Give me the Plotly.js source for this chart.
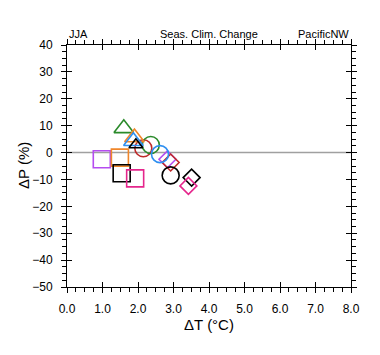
<!DOCTYPE html>
<html>
<head>
<meta charset="utf-8">
<script src="https://cdn.plot.ly/plotly-3.0.1.min.js"></script>
<style>html,body{margin:0;padding:0;background:#fff;}#chart{width:380px;height:355px;}</style>
</head>
<body>
<div id="chart"></div>
<script>
// Data (ΔT in °C, ΔP in %)
const triDT = [1.60, 1.90, 1.87, 1.94];
const triDP = [9.0, 5.6, 4.2, 2.9];
const cirDT = [2.15, 2.36, 2.62, 2.92];
const cirDP = [1.6, 2.8, -0.6, -8.5];
const diaDT = [2.83, 2.92, 3.51, 3.42];
const diaDP = [-2.5, -3.7, -9.3, -12.4];
const sqrDT = [0.98, 1.49, 1.54, 1.92];
const sqrDP = [-2.5, -1.9, -7.7, -9.6];
const xTickVals = [0,1,2,3,4,5,6,7,8];
const xTickText = ["0.0","1.0","2.0","3.0","4.0","5.0","6.0","7.0","8.0"];
const yTickVals = [40,30,20,10,0,-10,-20,-30,-40,-50];

// Styles
const GREEN="#2A8A2A", ORANGE="#F0862A", BLUE="#2E8FF0", BLACK="#000000",
      RED="#BE2A2A", PURPLE="#B54CF0", PINK="#E5268C";
const triColors=[GREEN,ORANGE,BLUE,BLACK];
const cirColors=[RED,GREEN,BLUE,BLACK];
const diaColors=[PURPLE,RED,BLACK,PINK];
const sqrColors=[PURPLE,ORANGE,BLACK,PINK];
const triSizes=[17,17,17,12];

function trace(x,y,sym,cols,size){
  return {x:x,y:y,type:'scatter',mode:'markers',hoverinfo:'skip',
    marker:{symbol:sym,size:size,opacity:1,color:cols,line:{color:cols,width:1.6}}};
}
const zero = {x:[0,8],y:[0,0],type:'scatter',mode:'lines',line:{color:'#a0a0a0',width:1.5},hoverinfo:'skip'};
const dummy = {x:[0],y:[0],xaxis:'x2',yaxis:'y2',type:'scatter',mode:'markers',marker:{opacity:0},hoverinfo:'skip'};
const data=[zero,
  trace(sqrDT,sqrDP,'square-open',sqrColors,17),
  trace(diaDT,diaDP,'diamond-open',diaColors,13),
  trace(cirDT,cirDP,'circle-open',cirColors,17),
  trace(triDT,triDP,'triangle-up-open',triColors,triSizes),
  dummy
];
const font={family:'"Liberation Sans", Arial, Helvetica, sans-serif',color:'#000'};
const layout={
  width:380,height:355,showlegend:false,
  paper_bgcolor:'#fff',plot_bgcolor:'#fff',
  margin:{l:67,r:29,t:45,b:68},
  font:font,
  xaxis:{range:[0,8],tickvals:xTickVals,ticktext:xTickText,showgrid:false,zeroline:false,
    showline:true,linecolor:'#000',linewidth:1,mirror:'ticks',ticks:'outside',ticklen:5,tickcolor:'#000',
    minor:{dtick:0.25,ticks:'outside',ticklen:4,tickcolor:'#000'},
    ticklabelstandoff:6,
    tickfont:{size:12,family:font.family},
    title:{text:'ΔT (°C)',font:{size:15,family:font.family},standoff:4}},
  yaxis:{range:[-50,40],tickvals:yTickVals,showgrid:false,zeroline:false,
    showline:true,linecolor:'#000',linewidth:1,mirror:'ticks',ticks:'outside',ticklen:5,tickcolor:'#000',
    minor:{dtick:2.5,ticks:'outside',ticklen:4,tickcolor:'#000'},
    ticklabelstandoff:6,
    tickfont:{size:12,family:font.family}},
  xaxis2:{overlaying:'x',anchor:'y2',range:[0,8],tickvals:xTickVals,showticklabels:false,showgrid:false,zeroline:false,
    showline:false,mirror:'ticks',ticks:'inside',ticklen:5,tickcolor:'#000'},
  yaxis2:{overlaying:'y',anchor:'x2',range:[-50,40],tickvals:yTickVals,showticklabels:false,showgrid:false,zeroline:false,
    showline:false,mirror:'ticks',ticks:'inside',ticklen:5,tickcolor:'#000'},
  annotations:[
    {text:'JJA',xref:'paper',yref:'paper',x:0,y:1,xanchor:'left',yanchor:'bottom',yshift:3,showarrow:false,font:{size:11}},
    {text:'Seas. Clim. Change',xref:'paper',yref:'paper',x:0.5,y:1,xanchor:'center',yanchor:'bottom',yshift:3,showarrow:false,font:{size:11}},
    {text:'PacificNW',xref:'paper',yref:'paper',x:1,y:1,xanchor:'right',yanchor:'bottom',yshift:3,showarrow:false,font:{size:11}},
    {text:'ΔP (%)',xref:'paper',yref:'paper',x:0,y:0.5,xanchor:'center',yanchor:'middle',xshift:-44,textangle:-90,showarrow:false,font:{size:15}}
  ]
};
Plotly.newPlot('chart',data,layout,{staticPlot:true,displayModeBar:false});
</script>
</body>
</html>
